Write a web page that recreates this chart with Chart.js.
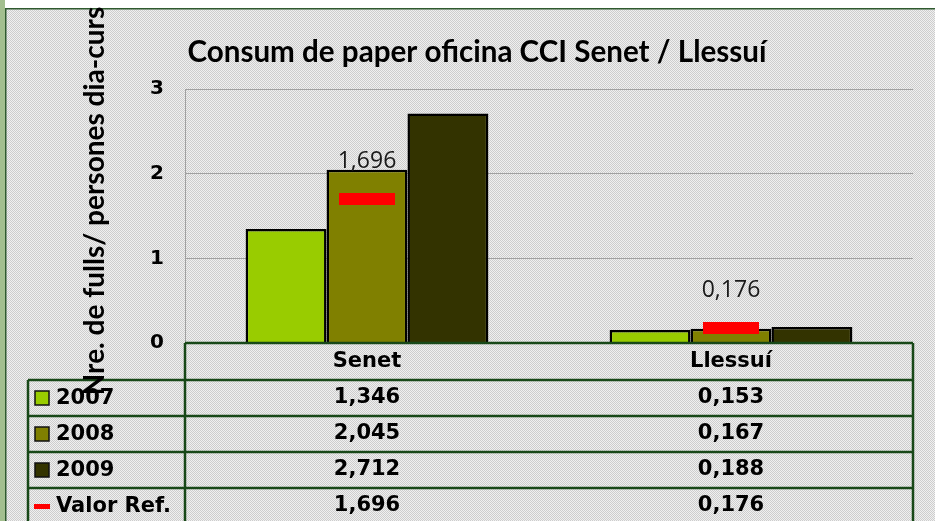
<!DOCTYPE html>
<html>
<head>
<meta charset="utf-8">
<script src="https://cdn.jsdelivr.net/npm/chart.js@4"></script>
<style>
  html, body { margin: 0; padding: 0; background: #fff; }
  #wrap { width: 935px; height: 521px; position: relative; }
</style>
</head>
<body>
<div id="wrap"><canvas id="paperChart"></canvas></div>
<script>
// data
const categories = ['Senet', 'Llessuí'];
const seriesNames = ['2007', '2008', '2009'];
const values2007 = [1.346, 0.153];
const values2008 = [2.045, 0.167];
const values2009 = [2.712, 0.188];
const refValues = [1.696, 0.176];
const refName = 'Valor Ref.';
const yTicks = [0, 1, 2, 3];
const chartTitle = 'Consum de paper oficina CCI Senet / Llessuí';
const yTitle = 'Nre. de fulls/ persones dia-curs';

const barColors = ['#99cc00', '#808000', '#333300'];
const tableFont = 'bold 21px "DejaVu Sans"';
const lineGreen = '#184818';

function fmt(v) {
    return v.toFixed(3).replace('.', ',');
}

// red dash used as the point style of the reference series
const refMark = document.createElement('canvas');
refMark.width = 56;
refMark.height = 12;
const rctx = refMark.getContext('2d');
rctx.fillStyle = '#ff0000';
rctx.fillRect(0, 0, 56, 12);

// fine dotted grey fill like the original
const pat = document.createElement('canvas');
pat.width = 2;
pat.height = 2;
const pctx = pat.getContext('2d');
pctx.fillStyle = '#f0f0f0';
pctx.fillRect(0, 0, 2, 2);
pctx.fillStyle = '#cdcdcd';
pctx.fillRect(0, 0, 1, 1);
pctx.fillRect(1, 1, 1, 1);

const decorPlugin = {
    id: 'decor',
    beforeDraw(chart) {
        const ctx = chart.ctx;
        ctx.save();
        ctx.fillStyle = '#ffffff';
        ctx.fillRect(0, 0, chart.width, chart.height);
        ctx.fillStyle = ctx.createPattern(pat, 'repeat');
        ctx.fillRect(6, 9, chart.width - 6, chart.height - 9);
        ctx.fillStyle = '#a3bf8f';
        ctx.fillRect(0, 0, 5, chart.height);
        ctx.fillStyle = '#2f5a2f';
        ctx.fillRect(5, 8, 1.5, chart.height);
        ctx.fillRect(5, 8, chart.width, 1.5);
        ctx.restore();
    },
    afterDraw(chart) {
        const ctx = chart.ctx;
        const area = chart.chartArea;
        const xs = chart.scales.x;
        ctx.save();

        // title, sized to span the same width as the original
        ctx.fillStyle = '#000';
        ctx.font = 'bold 25px Lato';
        const tw = ctx.measureText(chartTitle).width;
        ctx.font = 'bold ' + (25 * 580 / tw).toFixed(1) + 'px Lato';
        ctx.textAlign = 'center';
        ctx.textBaseline = 'alphabetic';
        ctx.fillText(chartTitle, 477, 62);

        // data table
        const rowH = 36;
        const top = area.bottom;
        const leftCol = 28;
        const rows = [values2007, values2008, values2009, refValues];
        ctx.strokeStyle = lineGreen;
        ctx.lineWidth = 2.5;
        ctx.beginPath();
        ctx.moveTo(area.left, top);
        ctx.lineTo(area.right, top);
        for (let i = 1; i <= rows.length; i++) {
            ctx.moveTo(leftCol, top + i * rowH + 1);
            ctx.lineTo(area.right, top + i * rowH + 1);
        }
        ctx.moveTo(area.left, top);
        ctx.lineTo(area.left, chart.height);
        ctx.moveTo(leftCol, top + rowH + 1);
        ctx.lineTo(leftCol, chart.height);
        ctx.moveTo(area.right, top);
        ctx.lineTo(area.right, chart.height);
        ctx.stroke();

        ctx.font = tableFont;
        ctx.textBaseline = 'middle';
        rows.forEach((vals, r) => {
            const cy = top + (r + 1.5) * rowH + 1;
            vals.forEach((v, c) => {
                ctx.textAlign = 'center';
                ctx.fillStyle = '#000';
                ctx.fillText(fmt(v), xs.getPixelForValue(c), cy);
            });
            // legend cell
            if (r < 3) {
                ctx.fillStyle = barColors[r];
                ctx.fillRect(35, cy - 7, 14, 14);
                ctx.strokeStyle = '#111';
                ctx.lineWidth = 1.5;
                ctx.strokeRect(35, cy - 7, 14, 14);
            } else {
                ctx.fillStyle = '#ff0000';
                ctx.fillRect(34, cy - 2, 16, 5);
            }
            ctx.fillStyle = '#000';
            ctx.textAlign = 'left';
            ctx.fillText(r < 3 ? seriesNames[r] : refName, 56, cy + 1);
        });

        // value labels above the reference marks
        const meta = chart.getDatasetMeta(3);
        ctx.font = '23px "Open Sans"';
        ctx.fillStyle = '#1a1a1a';
        ctx.textAlign = 'center';
        ctx.textBaseline = 'middle';
        meta.data.forEach((pt, i) => {
            ctx.fillText(fmt(refValues[i]), pt.x, pt.y - 38);
        });

        // y axis title, overlapping the plot like the original
        ctx.translate(104, 201);
        ctx.rotate(-Math.PI / 2);
        ctx.font = 'bold 28px Lato';
        ctx.fillStyle = '#000';
        ctx.textAlign = 'center';
        ctx.textBaseline = 'alphabetic';
        ctx.fillText(yTitle, 0, 0);
        ctx.restore();
    }
};

const ctx = document.getElementById('paperChart').getContext('2d');
new Chart(ctx, {
    type: 'bar',
    data: {
        labels: categories,
        datasets: [
            { label: seriesNames[0], data: values2007, backgroundColor: barColors[0] },
            { label: seriesNames[1], data: values2008, backgroundColor: barColors[1] },
            { label: seriesNames[2], data: values2009, backgroundColor: barColors[2] },
            {
                type: 'line',
                label: refName,
                data: refValues,
                showLine: false,
                pointStyle: refMark,
                pointRadius: 6,
                order: -1
            }
        ]
    },
    options: {
        responsive: true,
        maintainAspectRatio: false,
        animation: false,
        layout: { padding: { left: 0, top: 89, right: 22, bottom: 0 } },
        datasets: {
            bar: {
                borderColor: '#000',
                borderWidth: 2.5,
                barPercentage: 1,
                categoryPercentage: 0.667
            }
        },
        plugins: {
            legend: { display: false },
            tooltip: { enabled: false },
            title: { display: false }
        },
        scales: {
            y: {
                min: 0,
                max: 3,
                afterFit(scale) { scale.width = 185; },
                afterBuildTicks(scale) { scale.ticks = yTicks.map(v => ({ value: v })); },
                grid: { color: '#a0a0a0', drawTicks: false },
                border: { color: '#a0a0a0' },
                ticks: {
                    padding: 21,
                    color: '#000',
                    font: { family: 'DejaVu Sans', weight: 'bold', size: 20 }
                }
            },
            x: {
                afterFit(scale) { scale.height = 178; },
                grid: { display: false, drawTicks: false },
                border: { display: false },
                ticks: {
                    padding: 6,
                    color: '#000',
                    font: { family: 'DejaVu Sans', weight: 'bold', size: 21 }
                }
            }
        }
    },
    plugins: [decorPlugin]
});
</script>
</body>
</html>
